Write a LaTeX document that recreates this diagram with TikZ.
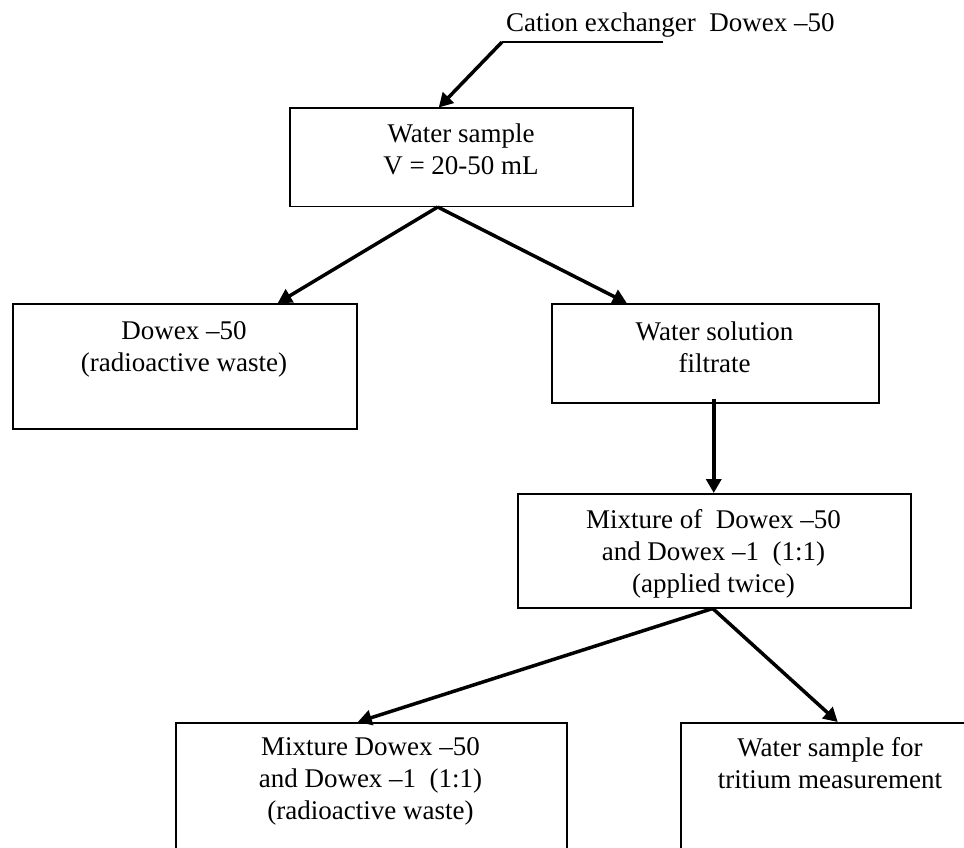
\documentclass[tikz,border=0pt]{standalone}
\usepackage{fontspec}
\setmainfont{Liberation Serif}
\usetikzlibrary{arrows.meta}
\begin{document}
\begin{tikzpicture}[x=1pt,y=-1pt,
  box/.style={draw, line width=1.5pt, inner sep=0pt, anchor=north west},
  txt/.style={align=center, inner sep=0pt, anchor=north, font=\fontsize{27}{32}\selectfont},
  arr/.style={line width=3.5pt, -{Triangle[length=14pt,width=15pt]}},
  ]
\useasboundingbox (0,0) rectangle (964,848);
\clip (0,0) rectangle (964,848);
% boxes
\node[box, minimum width=343pt, minimum height=98pt]  (b1) at (289,107.5) {};
\node[box, minimum width=344pt, minimum height=125pt] (b2) at (12,303) {};
\node[box, minimum width=327pt, minimum height=99pt]  (b3) at (551,303) {};
\node[box, minimum width=393pt, minimum height=114pt] (b4) at (517,493) {};
\node[box, minimum width=391pt, minimum height=170pt] (b5) at (175,722) {};
\node[box, minimum width=300pt, minimum height=170pt] (b6) at (680,722) {};
% texts
\node[txt] (t1) at (461,124) {Water sample\\V = 20-50 mL};
\node[txt] (t2) at (184,321.5) {Dowex –50\\(radioactive waste)};
\node[txt] (t3) at (714.5,321.5) {Water solution\\filtrate};
\node[txt] (t4) at (713.5,509.5) {Mixture of\ \ Dowex –50\\and Dowex –1\ \ (1:1)\\(applied twice)};
\node[txt] (t5) at (370.5,737.5) {Mixture Dowex –50\\and Dowex –1\ \ (1:1)\\(radioactive waste)};
\node[txt] (t6) at (830,737.5) {Water sample for\\tritium measurement};
\node[inner sep=0pt, anchor=base west, font=\fontsize{27}{32}\selectfont] (lbl) at (506,32) {Cation exchanger\ \ Dowex –50};
% connectors
\coordinate (lstart) at (502,42);
\coordinate (lend) at (663,42);
\draw[line width=1.5pt] (lstart) -- (lend);
\draw[arr] (lstart) -- ([xshift=-22.5pt]b1.north);
\draw[arr] ([xshift=-23.5pt]b1.south) -- ([xshift=93pt]b2.north);
\draw[arr] ([xshift=-23.5pt]b1.south) -- ([xshift=-88.5pt]b3.north);
\draw[arr] ([xshift=-1.5pt,yshift=5pt]b3.south) -- ([xshift=-0.5pt]b4.north);
\draw[arr] ([xshift=-1.5pt]b4.south) -- ([xshift=-13.5pt]b5.north);
\draw[arr] ([xshift=-1.5pt]b4.south) -- ([xshift=7pt]b6.north);
\end{tikzpicture}
\end{document}
